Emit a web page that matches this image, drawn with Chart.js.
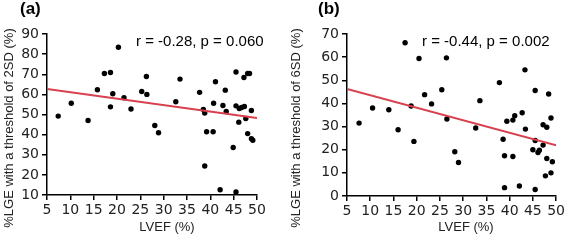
<!DOCTYPE html>
<html>
<head>
<meta charset="utf-8">
<script src="https://cdn.jsdelivr.net/npm/chart.js@4"></script>
<style>
  html, body { margin: 0; padding: 0; background: #fff; }
  #wrap { position: relative; width: 567px; height: 244px; }
  .panel { position: absolute; top: 0; height: 244px; }
</style>
</head>
<body>
<div id="wrap">
  <div class="panel" style="left:0;width:283px"><canvas id="chartA" width="283" height="244"></canvas></div>
  <div class="panel" style="left:283px;width:284px"><canvas id="chartB" width="284" height="244"></canvas></div>
</div>
<script>
// Panel (a): threshold 2SD
const lvefA = [7.4, 10.2, 13.8, 15.8, 17.3, 18.6, 18.6, 19.1, 20.3, 21.5, 23.0, 25.3, 26.3, 26.4, 28.1, 28.9,
  32.6, 33.5, 37.7, 38.5, 38.8, 38.8, 39.2, 40.6, 40.7, 41.1, 42.1, 42.7, 43.2, 43.4, 44.9, 45.5, 45.5, 45.5,
  46.1, 46.2, 46.7, 47.2, 47.3, 47.6, 48.0, 48.4, 48.0, 48.8, 48.8, 49.1];
const lgeA = [49.2, 55.6, 47.0, 62.3, 70.4, 70.9, 53.8, 60.3, 83.4, 58.3, 52.7, 61.4, 68.9, 60.0, 44.5, 40.9,
  56.3, 67.6, 61.0, 52.5, 50.7, 24.4, 41.4, 41.4, 55.6, 66.3, 12.6, 54.5, 62.1, 51.5, 33.6, 71.1, 54.3, 11.5,
  46.2, 53.0, 53.5, 68.4, 54.0, 48.0, 70.4, 70.4, 40.5, 52.0, 38.0, 37.2];
const fitXA = [5, 50];
const fitYA = [62.7, 48.3];

// Panel (b): threshold 6SD
const lvefB = [7.6, 10.5, 14.0, 16.0, 17.5, 18.8, 19.4, 20.5, 21.7, 23.2, 25.4, 26.4, 26.5, 28.2, 29.0, 32.7,
  33.6, 37.8, 38.6, 38.9, 38.9, 39.4, 40.7, 40.7, 41.1, 42.1, 42.7, 43.3, 43.4, 45.0, 45.5, 45.5, 45.5, 46.1,
  46.4, 47.2, 47.2, 47.7, 48.0, 48.0, 48.4, 48.9, 48.9, 49.2];
const lgeB = [31.5, 38.0, 37.3, 28.6, 66.2, 38.9, 23.6, 59.4, 43.8, 39.8, 45.9, 59.7, 33.3, 19.1, 14.5, 29.4,
  41.2, 49.0, 24.5, 17.4, 3.6, 32.3, 32.8, 17.1, 34.7, 4.3, 36.0, 54.5, 28.9, 20.0, 45.6, 24.0, 2.8, 18.8,
  19.8, 30.8, 22.0, 8.7, 29.7, 16.2, 44.1, 33.7, 10.0, 14.8];
const fitXB = [5, 50];
const fitYB = [46.3, 21.9];

const xTicks = [5, 10, 15, 20, 25, 30, 35, 40, 45, 50];

const tickFont = { family: "DejaVu Sans", size: 14 };
const textFont = "Liberation Sans, Arial, sans-serif";
const lineRed = "#d8404e";

// titres et annotations dessinés à la main
const labelsPlugin = {
  id: "labels",
  afterDraw(chart, args, opts) {
    const ctx = chart.ctx;
    ctx.save();
    ctx.fillStyle = "#000";
    ctx.font = "bold 17px " + textFont;
    ctx.textBaseline = "middle";
    ctx.textAlign = "left";
    ctx.fillText(opts.panel, opts.panelX, 9);

    ctx.font = "15px " + textFont;
    ctx.fillText(opts.note, opts.noteX, 42);

    ctx.fillStyle = "#222";
    ctx.font = "13px " + textFont;
    ctx.textAlign = "center";
    ctx.fillText("LVEF (%)", opts.xTitleX, 227);

    ctx.translate(opts.yTitleX, 128);
    ctx.rotate(-Math.PI / 2);
    ctx.fillText(opts.yTitle, 0, 0);
    ctx.restore();
  }
};

function makeChart(id, xs, ys, fx, fy, yMin, yMax, axisW, padRight, bottomH, labels) {
  const pts = xs.map((x, i) => ({ x: x, y: ys[i] }));
  const fit = fx.map((x, i) => ({ x: x, y: fy[i] }));
  return new Chart(document.getElementById(id), {
    type: "scatter",
    data: {
      datasets: [
        {
          type: "line",
          data: fit,
          borderColor: lineRed,
          borderWidth: 2,
          pointRadius: 0,
          fill: false
        },
        {
          data: pts,
          backgroundColor: "#000",
          borderColor: "#000",
          pointRadius: 2.7,
          borderWidth: 0,
          clip: false
        }
      ]
    },
    options: {
      responsive: false,
      animation: false,
      layout: { padding: { top: 34, right: padRight, left: 0, bottom: 0 } },
      plugins: {
        legend: { display: false },
        tooltip: { enabled: false },
        labels: labels
      },
      scales: {
        x: {
          type: "linear",
          min: 5,
          max: 50,
          afterBuildTicks: s => { s.ticks = xTicks.map(v => ({ value: v })); },
          ticks: { font: tickFont, color: "#222", padding: 2, maxRotation: 0 },
          grid: { drawOnChartArea: false, drawTicks: true, tickLength: 5, color: "#000", lineWidth: 1.5 },
          border: { color: "#000", width: 1.5 },
          afterFit: s => { s.height = bottomH; }
        },
        y: {
          min: yMin,
          max: yMax,
          ticks: { stepSize: 10, font: tickFont, color: "#222", padding: 3 },
          grid: { drawOnChartArea: false, drawTicks: true, tickLength: 5, color: "#000", lineWidth: 1.5 },
          border: { color: "#000", width: 1.5 },
          afterFit: s => { s.width = axisW; }
        }
      }
    },
    plugins: [labelsPlugin]
  });
}

makeChart("chartA", lvefA, lgeA, fitXA, fitYA, 10, 90, 47, 26, 49, {
  panel: "(a)", panelX: 20, note: "r = -0.28, p = 0.060", noteX: 136, xTitleX: 167,
  yTitle: "%LGE with a threshold of 2SD (%)", yTitleX: 9
});
makeChart("chartB", lvefB, lgeB, fitXB, fitYB, 0, 70, 64, 9, 48, {
  panel: "(b)", panelX: 35, note: "r = -0.44, p = 0.002", noteX: 139, xTitleX: 183,
  yTitle: "%LGE with a threshold of 6SD (%)", yTitleX: 13
});
</script>
</body>
</html>
